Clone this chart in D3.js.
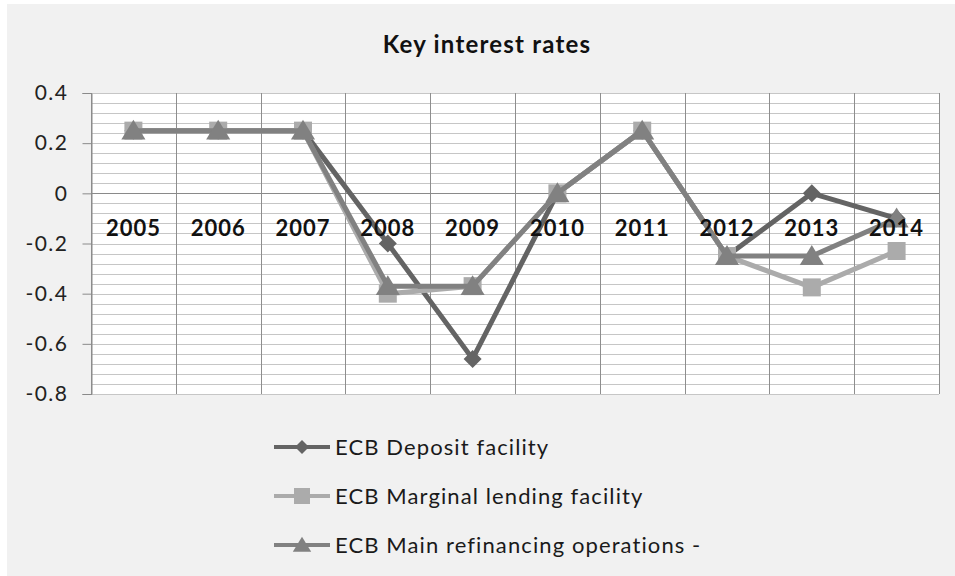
<!DOCTYPE html>
<html>
<head>
<meta charset="utf-8">
<script src="https://cdn.jsdelivr.net/npm/d3@7"></script>
<style>
  html, body { margin: 0; padding: 0; background: #ffffff; }
  svg { display: block; }
</style>
</head>
<body>
<svg id="chart" width="955" height="576"></svg>
<script>
// ECB key interest rates by year
const years = ["2005", "2006", "2007", "2008", "2009", "2010", "2011", "2012", "2013", "2014"];
const depositFacility = [0.25, 0.25, 0.25, -0.2, -0.66, 0, 0.25, -0.25, 0, -0.1];
const marginalLending = [0.25, 0.25, 0.25, -0.4, -0.37, 0, 0.25, -0.25, -0.375, -0.23];
const mainRefinancing = [0.25, 0.25, 0.25, -0.37, -0.37, 0, 0.25, -0.25, -0.25, -0.1];
const seriesNames = ["ECB Deposit facility", "ECB Marginal lending facility", "ECB Main refinancing operations -"];
const yTicks = [0.4, 0.2, 0, -0.2, -0.4, -0.6, -0.8];

const FONT = "Lato, 'Open Sans', sans-serif";
const series = [
  { name: seriesNames[0], values: depositFacility, color: "#646464", shape: "diamond" },
  { name: seriesNames[1], values: marginalLending, color: "#ababab", shape: "square" },
  { name: seriesNames[2], values: mainRefinancing, color: "#818181", shape: "triangle" }
];

const svg = d3.select("#chart");

// chart background
svg.append("rect").attr("x", 7).attr("y", 4).attr("width", 948).attr("height", 572).attr("fill", "#f1f1f1");

const plot = { left: 91, right: 939, top: 93, bottom: 394 };
const x = d3.scaleBand().domain(years).range([plot.left, plot.right]).padding(0);
const y = d3.scaleLinear().domain([-0.8, 0.4]).range([plot.bottom, plot.top]);

svg.append("rect")
  .attr("x", plot.left).attr("y", plot.top)
  .attr("width", plot.right - plot.left).attr("height", plot.bottom - plot.top)
  .attr("fill", "#ffffff");

// horizontal gridlines (minor step 0.04)
const gridVals = d3.range(0, 31).map(i => +(-0.8 + i * 0.04).toFixed(2));
svg.append("g").selectAll("line").data(gridVals).join("line")
  .attr("x1", plot.left).attr("x2", plot.right)
  .attr("y1", d => Math.round(y(d)) + 0.5).attr("y2", d => Math.round(y(d)) + 0.5)
  .attr("stroke", "#c6c6c6").attr("stroke-width", 1);

// vertical gridlines at category boundaries
const bounds = years.map(d => x(d)).concat([plot.right]);
svg.append("g").selectAll("line").data(bounds).join("line")
  .attr("x1", d => Math.round(d) + 0.5).attr("x2", d => Math.round(d) + 0.5)
  .attr("y1", plot.top).attr("y2", plot.bottom)
  .attr("stroke", "#8e8e8e").attr("stroke-width", 1);

// category axis line at zero
svg.append("line")
  .attr("x1", plot.left).attr("x2", plot.right)
  .attr("y1", Math.round(y(0)) + 0.5).attr("y2", Math.round(y(0)) + 0.5)
  .attr("stroke", "#8a8a8a").attr("stroke-width", 1);

// value axis (plain hyphen for negatives)
const yAxis = d3.axisLeft(y).tickValues(yTicks).tickSize(9).tickPadding(14)
  .tickFormat(d => d === 0 ? "0" : d.toFixed(1));
const gy = svg.append("g").attr("transform", `translate(${plot.left + 0.5},0)`).call(yAxis);
gy.select(".domain").attr("stroke", "#8a8a8a");
gy.selectAll(".tick line").attr("stroke", "#8a8a8a");
gy.selectAll(".tick text").attr("font-family", FONT).attr("font-size", 21)
  .attr("letter-spacing", 1.5).attr("fill", "#222");

function markerPath(shape, s) {
  if (shape === "diamond") return `M0,${-s}L${s},0L0,${s}L${-s},0Z`;
  if (shape === "square") return `M${-s},${-s}H${s}V${s}H${-s}Z`;
  const h = s * 1.9;
  return `M0,${-h * 0.55}L${s * 1.15},${h * 0.45}L${-s * 1.15},${h * 0.45}Z`;
}
const markerSize = { diamond: 9, square: 9, triangle: 10.5 };

const line = d3.line()
  .x((d, i) => x(years[i]) + x.bandwidth() / 2)
  .y(d => y(d));

series.forEach(s => {
  const g = svg.append("g");
  g.append("path").attr("d", line(s.values))
    .attr("fill", "none").attr("stroke", s.color).attr("stroke-width", 5)
    .attr("stroke-linejoin", "round");
  g.selectAll("path.m").data(s.values).join("path").attr("class", "m")
    .attr("transform", (d, i) => `translate(${x(years[i]) + x.bandwidth() / 2},${y(d)})`)
    .attr("d", markerPath(s.shape, markerSize[s.shape]))
    .attr("fill", s.color);
});

// category labels, sitting just below the zero line, drawn over the series
svg.append("g").selectAll("text").data(years).join("text")
  .attr("x", d => x(d) + x.bandwidth() / 2)
  .attr("y", y(0) + 43)
  .attr("text-anchor", "middle")
  .attr("font-family", FONT).attr("font-weight", "bold").attr("font-size", 22)
  .attr("letter-spacing", 1)
  .attr("fill", "#111")
  .text(d => d);

// title
svg.append("text").attr("x", 487).attr("y", 53).attr("text-anchor", "middle")
  .attr("font-family", FONT).attr("font-weight", "bold").attr("font-size", 24)
  .attr("letter-spacing", 1.2).attr("fill", "#111")
  .text("Key interest rates");

// legend
const legend = svg.append("g");
series.forEach((s, i) => {
  const ly = 447 + i * 49;
  legend.append("line").attr("x1", 274).attr("x2", 330).attr("y1", ly).attr("y2", ly)
    .attr("stroke", s.color).attr("stroke-width", 4);
  legend.append("path").attr("transform", `translate(302,${ly})`)
    .attr("d", markerPath(s.shape, s.shape === "diamond" ? 7 : 8)).attr("fill", s.color);
  legend.append("text").attr("x", 335).attr("y", ly + 8)
    .attr("font-family", FONT).attr("font-size", 22).attr("letter-spacing", 1.1)
    .attr("fill", "#1a1a1a")
    .text(s.name);
});
</script>
</body>
</html>
